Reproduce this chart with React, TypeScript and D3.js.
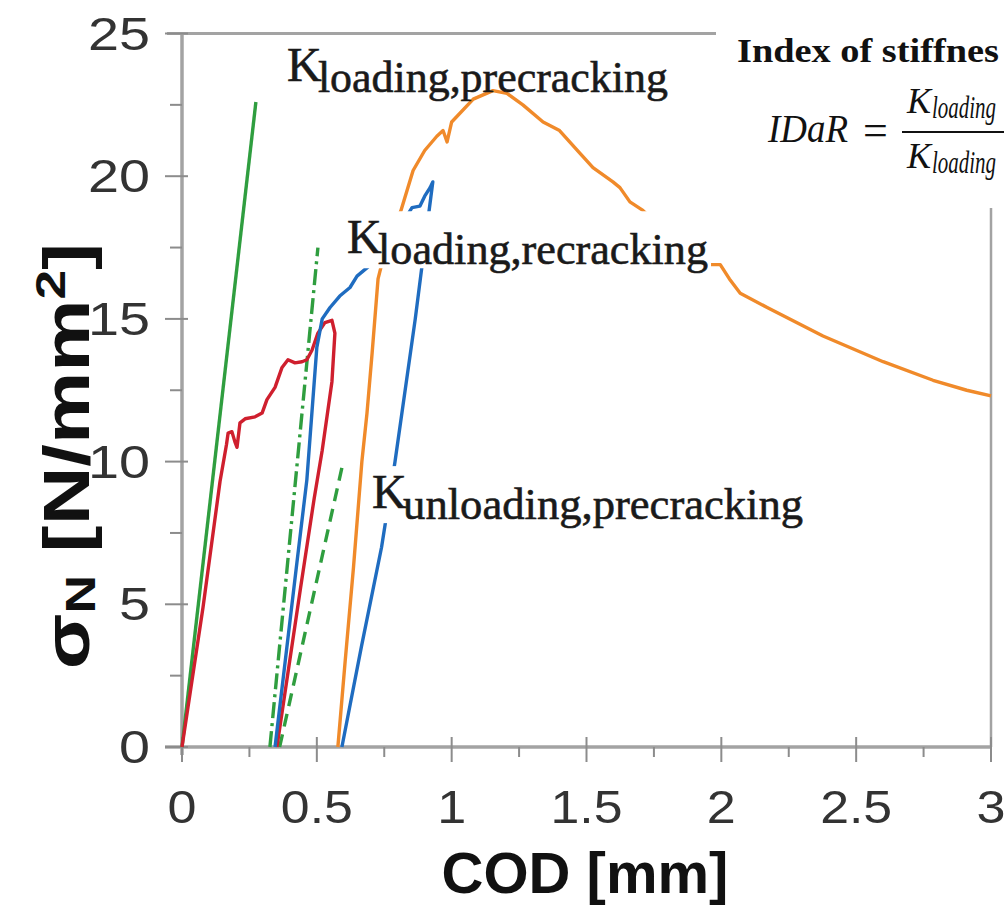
import { useEffect, useRef } from "react";
import * as d3 from "d3";

// COD [mm] vs sigma_N [N/mm2]
const greenLoading = [
  [0, 0],
  [0.274, 22.6],
];
const dashDotLine = [
  [0.326, 0],
  [0.504, 17.5],
];
const dashedLine = [
  [0.362, 0],
  [0.598, 10.0],
];
const redCurve = [
  [0, 0], [0.078, 4.9], [0.141, 9.3], [0.165, 10.6], [0.171, 11.0], [0.185, 11.05],
  [0.196, 10.7], [0.204, 10.5], [0.215, 11.36], [0.234, 11.5], [0.271, 11.57],
  [0.297, 11.7], [0.315, 12.17], [0.345, 12.6], [0.371, 13.3], [0.393, 13.57],
  [0.419, 13.46], [0.445, 13.5], [0.463, 13.57], [0.482, 13.9], [0.504, 14.5],
  [0.53, 14.87], [0.556, 14.95], [0.567, 14.5], [0.556, 12.8], [0.52, 10.4],
  [0.49, 8.7], [0.44, 5.6], [0.352, 0],
];
const blueCurve = [
  [0.345, 0], [0.426, 6.45], [0.463, 9.36], [0.5, 14.0], [0.52, 15.0], [0.549, 15.4],
  [0.585, 15.8], [0.623, 16.1], [0.649, 16.5], [0.7, 16.9], [0.76, 17.6], [0.82, 18.4],
  [0.853, 18.9], [0.882, 18.95], [0.9, 19.3], [0.92, 19.6], [0.93, 19.8],
  [0.9, 17.6], [0.865, 15.0], [0.79, 10.0], [0.74, 7.0], [0.665, 3.5], [0.593, 0],
];
const orangeCurve = [
  [0.578, 0], [0.605, 3.0], [0.636, 6.3], [0.667, 10.0], [0.686, 11.7], [0.705, 13.8],
  [0.727, 16.4], [0.764, 17.8], [0.812, 18.8], [0.857, 20.2], [0.9, 20.9], [0.945, 21.4],
  [0.968, 21.6], [0.983, 21.2], [1.0, 21.9], [1.08, 22.7], [1.153, 23.0], [1.205, 22.9],
  [1.264, 22.5], [1.339, 21.9], [1.4, 21.6], [1.476, 20.8], [1.524, 20.3], [1.598, 19.8],
  [1.624, 19.6], [1.661, 19.1], [1.709, 18.8], [1.8, 18.0], [1.9, 17.2], [1.947, 16.9],
  [1.996, 16.9], [2.03, 16.4], [2.07, 15.9], [2.17, 15.4], [2.377, 14.4], [2.6, 13.5],
  [2.785, 12.85], [2.91, 12.5], [3.0, 12.3],
];

const xTicks = [0, 0.5, 1, 1.5, 2, 2.5, 3];
const xMinorTicks = [0.25, 0.75, 1.25, 1.75, 2.25, 2.75];
const yTicks = [0, 5, 10, 15, 20, 25];
const yMinorTicks = [2.5, 7.5, 12.5, 17.5, 22.5];

// annotation anchors, in data units (COD, sigma)
const annotations = [
  { x: 0.389, y: 23.35, sub: "loading,precracking", subLen: 350 },
  { x: 0.612, y: 17.3, sub: "loading,recracking", subLen: 330 },
  { x: 0.705, y: 8.37, sub: "unloading,precracking", subLen: 400 },
];

const App = () => {
  const svgRef = useRef(null);

  useEffect(() => {
    const width = 1004;
    const height = 915;
    const svg = d3.select(svgRef.current);
    svg.selectAll("*").remove();

    const x = d3.scaleLinear().domain([0, 3]).range([182, 991]);
    const y = d3.scaleLinear().domain([0, 25]).range([747, 33.5]);

    const axisColor = "#a3a3a3";

    // frame (top and right border)
    svg.append("line")
      .attr("x1", 167).attr("x2", x(3)).attr("y1", y(25)).attr("y2", y(25))
      .attr("stroke", axisColor).attr("stroke-width", 3);
    svg.append("line")
      .attr("x1", x(3)).attr("x2", x(3)).attr("y1", y(25)).attr("y2", y(0))
      .attr("stroke", axisColor).attr("stroke-width", 2.5);

    // axes
    svg.append("line")
      .attr("x1", x(0)).attr("x2", x(0)).attr("y1", y(25)).attr("y2", y(0) + 8)
      .attr("stroke", axisColor).attr("stroke-width", 3.5);
    svg.append("line")
      .attr("x1", 165).attr("x2", x(3)).attr("y1", y(0)).attr("y2", y(0))
      .attr("stroke", axisColor).attr("stroke-width", 3.5);

    // ticks
    const tickColor = "#8c8c8c";
    svg.append("g").selectAll("line").data(yTicks).enter().append("line")
      .attr("x1", 165).attr("x2", 188)
      .attr("y1", (d) => y(d)).attr("y2", (d) => y(d))
      .attr("stroke", tickColor).attr("stroke-width", 2);
    svg.append("g").selectAll("line").data(yMinorTicks).enter().append("line")
      .attr("x1", 170).attr("x2", 182)
      .attr("y1", (d) => y(d)).attr("y2", (d) => y(d))
      .attr("stroke", tickColor).attr("stroke-width", 2);
    svg.append("g").selectAll("line").data(xTicks).enter().append("line")
      .attr("x1", (d) => x(d)).attr("x2", (d) => x(d))
      .attr("y1", y(0) - 10).attr("y2", y(0) + 15)
      .attr("stroke", tickColor).attr("stroke-width", 2);
    svg.append("g").selectAll("line").data(xMinorTicks).enter().append("line")
      .attr("x1", (d) => x(d)).attr("x2", (d) => x(d))
      .attr("y1", y(0)).attr("y2", y(0) + 10)
      .attr("stroke", tickColor).attr("stroke-width", 2);

    // tick labels
    const tickFont = "'Liberation Sans', Arial, sans-serif";
    svg.append("g").selectAll("text").data(yTicks).enter().append("text")
      .attr("x", 150).attr("y", (d) => y(d) + 16)
      .attr("text-anchor", "end")
      .attr("font-family", tickFont).attr("font-size", 46)
      .attr("fill", "#333")
      .attr("textLength", (d) => String(d).length * 31)
      .attr("lengthAdjust", "spacingAndGlyphs")
      .text((d) => d);
    svg.append("g").selectAll("text").data(xTicks).enter().append("text")
      .attr("x", (d) => x(d)).attr("y", 823)
      .attr("text-anchor", "middle")
      .attr("font-family", tickFont).attr("font-size", 46)
      .attr("fill", "#333")
      .attr("textLength", (d) => String(d).replace(".", "").length * 29 + (String(d).includes(".") ? 14 : 0))
      .attr("lengthAdjust", "spacingAndGlyphs")
      .text((d) => d);

    // axis titles
    svg.append("text")
      .attr("x", 585).attr("y", 893)
      .attr("text-anchor", "middle")
      .attr("font-family", tickFont).attr("font-weight", "bold")
      .attr("font-size", 58).attr("fill", "#111")
      .text("COD [mm]");
    const yTitle = svg.append("text")
      .attr("transform", "translate(89,456) rotate(-90) scale(1.27,1)")
      .attr("text-anchor", "middle")
      .attr("font-family", tickFont).attr("font-weight", "bold")
      .attr("font-size", 64).attr("fill", "#111");
    yTitle.append("tspan").text("σ");
    yTitle.append("tspan").attr("font-size", 42).attr("dy", 6).text("N");
    yTitle.append("tspan").attr("dy", -6).text(" [N/mm");
    yTitle.append("tspan").attr("font-size", 42).attr("dy", -24).text("2");
    yTitle.append("tspan").attr("dy", 24).text("]");

    // curves
    const line = d3.line().x((d) => x(d[0])).y((d) => y(d[1]));
    const series = [
      { data: greenLoading, color: "#2f9e3f", dash: null },
      { data: dashDotLine, color: "#2f9e3f", dash: "16,5,3,5" },
      { data: dashedLine, color: "#2f9e3f", dash: "13,8" },
      { data: redCurve, color: "#cf1f2e", dash: null },
      { data: blueCurve, color: "#1f6cc0", dash: null },
      { data: orangeCurve, color: "#f08a2a", dash: null },
    ];
    svg.append("g").selectAll("path").data(series).enter().append("path")
      .attr("d", (d) => line(d.data))
      .attr("fill", "none")
      .attr("stroke", (d) => d.color)
      .attr("stroke-width", 3.4)
      .attr("stroke-linejoin", "round")
      .attr("stroke-dasharray", (d) => d.dash);

    // K annotations with white background
    const serif = "'Liberation Serif', 'Times New Roman', serif";
    annotations.forEach((a, i) => {
      const ax = x(a.x);
      const ay = y(a.y);
      if (i > 0) {
        svg.append("rect")
          .attr("x", ax - 2).attr("y", ay - 42)
          .attr("width", a.subLen + 36).attr("height", 57)
          .attr("fill", "#fff");
      }
      svg.append("text")
        .attr("x", ax).attr("y", ay)
        .attr("font-family", serif).attr("font-size", 48)
        .attr("fill", "#1a1a1a").attr("stroke", "#1a1a1a").attr("stroke-width", 0.6)
        .text("K");
      svg.append("text")
        .attr("x", ax + 31).attr("y", ay + 11)
        .attr("font-family", serif).attr("font-size", 44)
        .attr("fill", "#1a1a1a").attr("stroke", "#1a1a1a").attr("stroke-width", 0.6)
        .attr("textLength", a.subLen)
        .attr("lengthAdjust", "spacingAndGlyphs")
        .text(a.sub);
    });

    // formula box (top right), cut at the picture's right edge as in the source
    svg.append("rect")
      .attr("x", 716).attr("y", 20).attr("width", width - 716).attr("height", 188)
      .attr("fill", "#fff");
    svg.append("text")
      .attr("x", 737).attr("y", 62)
      .attr("font-family", serif).attr("font-weight", "bold")
      .attr("font-size", 33).attr("fill", "#111")
      .attr("textLength", 262)
      .attr("lengthAdjust", "spacingAndGlyphs")
      .text("Index of stiffnes");
    svg.append("text")
      .attr("x", 768).attr("y", 142)
      .attr("font-family", serif).attr("font-style", "italic")
      .attr("font-size", 40).attr("fill", "#111")
      .attr("textLength", 80)
      .attr("lengthAdjust", "spacingAndGlyphs")
      .text("IDaR");
    svg.append("text")
      .attr("x", 863).attr("y", 145)
      .attr("font-family", serif)
      .attr("font-size", 44).attr("fill", "#111")
      .text("=");
    svg.append("line")
      .attr("x1", 902).attr("x2", width).attr("y1", 132).attr("y2", 132)
      .attr("stroke", "#111").attr("stroke-width", 2);
    const frac = [113, 168];
    frac.forEach((yy) => {
      svg.append("text")
        .attr("x", 907).attr("y", yy)
        .attr("font-family", serif).attr("font-style", "italic")
        .attr("font-size", 36).attr("fill", "#111")
        .text("K");
      svg.append("text")
        .attr("x", 932).attr("y", yy + 5)
        .attr("font-family", serif).attr("font-style", "italic")
        .attr("font-size", 31).attr("fill", "#111")
        .attr("textLength", 64)
        .attr("lengthAdjust", "spacingAndGlyphs")
        .text("loading");
    });
  }, []);

  return (
    <svg
      ref={svgRef}
      width={1004}
      height={915}
      style={{ position: "absolute", left: 0, top: 0, background: "#fff" }}
    ></svg>
  );
};

export default App;
